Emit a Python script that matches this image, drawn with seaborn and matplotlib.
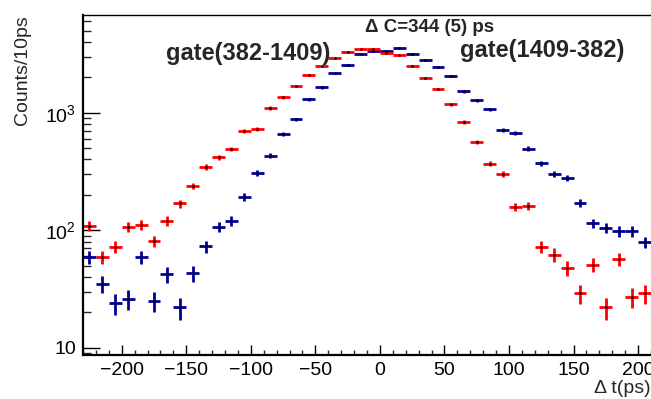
import numpy as np
import pandas as pd
import matplotlib
matplotlib.use("Agg")
import matplotlib.pyplot as plt
import seaborn as sns
from matplotlib.ticker import (FixedLocator, FixedFormatter, MultipleLocator,
                               LogLocator, NullFormatter)

# Time-difference bin centres (10 ps bins)
bin_centers = [-225, -215, -205, -195, -185, -175, -165, -155, -145, -135,
               -125, -115, -105, -95, -85, -75, -65, -55, -45, -35,
               -25, -15, -5, 5, 15, 25, 35, 45, 55, 65,
               75, 85, 95, 105, 115, 125, 135, 145, 155, 165,
               175, 185, 195, 205]

# Counts per bin, start gate 382 keV / stop gate 1409 keV
counts_382_1409 = [109, 59, 72, 107, 111, 81, 120, 169, 239, 347,
                   417, 491, 695, 731, 1096, 1355, 1687, 2080, 2490, 2904,
                   3285, 3484, 3467, 3230, 3110, 2512, 1980, 1595, 1178, 836,
                   566, 368, 301, 158, 162, 72, 62, 48, 29, 51,
                   22, 57, 27, 29]

# Counts per bin, start gate 1409 keV / stop gate 382 keV
counts_1409_382 = [59, 35, 24, 26, 59, 25, 42, 22, 43, 73,
                   106, 120, 192, 305, 429, 655, 879, 1300, 1644, 2170,
                   2530, 3170, 3320, 3373, 3556, 3178, 2792, 2461, 2042, 1521,
                   1276, 1069, 717, 668, 494, 371, 303, 277, 171, 115,
                   105, 98, 98, 79]

gate_labels = ["gate(382-1409)", "gate(1409-382)"]
gate_colors = ["#ff0000", "#000099"]
y_tick_values = [10, 100, 1000]
y_tick_labels = ["10", "$10^{2}$", "$10^{3}$"]
delta_c_text = "Δ C=344 (5) ps"

sns.set_theme(style="ticks")
plt.rcParams["font.family"] = ["Liberation Sans", "DejaVu Sans"]
plt.rcParams["mathtext.fontset"] = "custom"
plt.rcParams["mathtext.rm"] = "Liberation Sans"
plt.rcParams["mathtext.it"] = "Liberation Sans:italic"
plt.rcParams["mathtext.bf"] = "Liberation Sans:bold"

df = pd.concat([
    pd.DataFrame({"dt": bin_centers, "counts": counts_382_1409, "gate": gate_labels[0]}),
    pd.DataFrame({"dt": bin_centers, "counts": counts_1409_382, "gate": gate_labels[1]}),
], ignore_index=True)
df["err"] = np.sqrt(df["counts"])

fig = plt.figure(figsize=(6.51, 3.99), dpi=100)
ax = fig.add_axes([83 / 651, 44 / 399, 568 / 651, 340 / 399])

palette = dict(zip(gate_labels, gate_colors))
for gate in gate_labels[::-1]:
    sub = df[df["gate"] == gate]
    ax.errorbar(sub["dt"], sub["counts"], xerr=5, yerr=sub["err"], fmt="none",
                ecolor=palette[gate], elinewidth=2.0, capsize=0, zorder=2)

sns.scatterplot(data=df, x="dt", y="counts", color="black", s=3, marker="o",
                linewidth=0, legend=False, ax=ax, zorder=3)

ax.set_yscale("log")
ax.set_xlim(-230, 210)
ax.set_ylim(8.67, 6780)
ax.set_xlabel("")
ax.set_ylabel("")

ax.xaxis.set_major_locator(MultipleLocator(50))
ax.xaxis.set_minor_locator(MultipleLocator(10))
ax.yaxis.set_major_locator(FixedLocator(y_tick_values))
ax.yaxis.set_major_formatter(FixedFormatter(y_tick_labels))
ax.yaxis.set_minor_locator(LogLocator(base=10, subs=np.arange(2, 10), numticks=20))
ax.yaxis.set_minor_formatter(NullFormatter())

ax.tick_params(axis="x", which="major", direction="in", length=7, width=1,
               labelsize=14, pad=5, top=False, colors="black")
ax.tick_params(axis="x", which="minor", direction="in", length=3.5, width=1, top=False)
ax.tick_params(axis="y", which="major", direction="in", length=12, width=1,
               labelsize=14, pad=5, right=False, colors="black")
ax.tick_params(axis="y", which="minor", direction="in", length=6, width=1, right=False)

for side in ["left", "bottom"]:
    ax.spines[side].set_linewidth(1.6)
    ax.spines[side].set_color("black")
ax.spines["top"].set_linewidth(1.0)
ax.spines["top"].set_color("black")
ax.spines["right"].set_visible(False)

W, H = 651, 399
fig.text(430 / W, 1 - 27.5 / H, delta_c_text, ha="center", va="center",
         fontsize=13.5, fontweight="bold")
fig.text(248.5 / W, 1 - 60 / H, gate_labels[0], ha="center", va="baseline",
         fontsize=17, fontweight="bold")
fig.text(541.7 / W, 1 - 57.3 / H, gate_labels[1], ha="center", va="baseline",
         fontsize=17, fontweight="bold")
fig.text(23 / W, 1 - 15 / H, "Counts/10ps", rotation=90, ha="center", va="top",
         fontsize=14)
fig.text(1.0, 6.3 / H, "Δ t(ps)", ha="right", va="baseline", fontsize=14)

fig.savefig("out.png", dpi=100)
